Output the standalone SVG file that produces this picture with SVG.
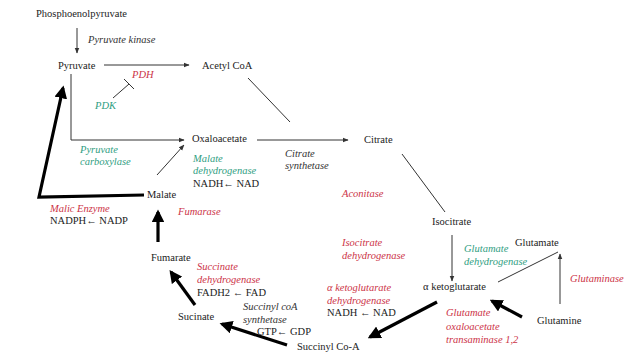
<svg xmlns="http://www.w3.org/2000/svg" width="638" height="355" viewBox="0 0 638 355">
<style>
text{font-family:"Liberation Serif","Times New Roman",serif;font-size:10.5px;fill:#222}
.e{font-style:italic}
.r{fill:#cc3347}
.g{fill:#2f9e82}
.k{fill:#333}
.thin{stroke:#333;stroke-width:1;fill:none}
.thick{stroke:#000;stroke-width:3.2;fill:none}
</style>
<defs>
<marker id="a" viewBox="0 0 10 10" refX="9" refY="5" markerWidth="6" markerHeight="6" markerUnits="userSpaceOnUse" orient="auto"><path d="M0,1 L10,5 L0,9 z" fill="#333"/></marker>
<marker id="A" viewBox="0 0 10 10" refX="8" refY="5" markerWidth="4" markerHeight="4" orient="auto"><path d="M0,0 L10,5 L0,10 z" fill="#000"/></marker>
</defs>
<g id="connectors">
<line class="thin" x1="77" y1="28" x2="77" y2="53" marker-end="url(#a)"/>
<line class="thin" x1="104" y1="65" x2="189" y2="65" marker-end="url(#a)"/>
<line class="thin" x1="113" y1="98" x2="129" y2="84"/>
<line class="thin" x1="124" y1="79" x2="134" y2="89"/>
<line class="thin" x1="248" y1="78" x2="290" y2="122"/>
<polyline class="thin" points="71,74 71,140 184,140" marker-end="url(#a)"/>
<line class="thin" x1="257" y1="140" x2="348" y2="140" marker-end="url(#a)"/>
<line class="thin" x1="157" y1="175" x2="184" y2="145" marker-end="url(#a)"/>
<polyline class="thick" points="144,195 39,197 63,88" marker-end="url(#A)" stroke-linejoin="miter"/>
<line class="thick" x1="158" y1="242" x2="158" y2="212" marker-end="url(#A)"/>
<line class="thick" x1="195" y1="305" x2="171" y2="272" marker-end="url(#A)"/>
<line class="thick" x1="287" y1="345" x2="222" y2="324" marker-end="url(#A)"/>
<line class="thin" x1="402" y1="154" x2="445" y2="212"/>
<line class="thin" x1="452" y1="235" x2="452" y2="281" marker-end="url(#a)"/>
<line class="thin" x1="498" y1="282" x2="558" y2="252"/>
<line class="thin" x1="560" y1="304" x2="560" y2="254" marker-end="url(#a)"/>
<line class="thick" x1="437" y1="302" x2="370" y2="337" marker-end="url(#A)"/>
<line class="thick" x1="522" y1="317" x2="492" y2="301" marker-end="url(#A)"/>
</g>
<g id="pep"><text x="36" y="17">Phosphoenolpyruvate</text></g>
<g id="pk"><text class="e k" x="88" y="43">Pyruvate kinase</text></g>
<g id="pyruvate"><text x="58" y="69">Pyruvate</text></g>
<g id="acetylcoa"><text x="202" y="69">Acetyl CoA</text></g>
<g id="pdh"><text class="e r" x="132" y="78">PDH</text></g>
<g id="pdk"><text class="e g" x="95" y="109">PDK</text></g>
<g id="oxaloacetate"><text x="192" y="142">Oxaloacetate</text></g>
<g id="pc"><text class="e g" x="80" y="153">Pyruvate</text><text class="e g" x="80" y="165">carboxylase</text></g>
<g id="citrate"><text x="364" y="143">Citrate</text></g>
<g id="cs"><text class="e k" x="285" y="157">Citrate</text><text class="e k" x="285" y="169">synthetase</text></g>
<g id="mdh"><text class="e g" x="193" y="162">Malate</text><text class="e g" x="193" y="174">dehydrogenase</text><text x="193" y="187">NADH← NAD</text></g>
<g id="malate"><text x="147" y="198">Malate</text></g>
<g id="me"><text class="e r" x="50" y="212">Malic Enzyme</text><text x="50" y="224">NADPH← NADP</text></g>
<g id="fumarase"><text class="e r" x="178" y="215">Fumarase</text></g>
<g id="fumarate"><text x="151" y="261">Fumarate</text></g>
<g id="sdh"><text class="e r" x="197" y="270">Succinate</text><text class="e r" x="197" y="283">dehydrogenase</text><text x="197" y="296">FADH2 ← FAD</text></g>
<g id="sucinate"><text x="178" y="320">Sucinate</text></g>
<g id="scs"><text class="e k" x="243" y="310">Succinyl coA</text><text class="e k" x="243" y="323">synthetase</text><text x="257" y="335">GTP← GDP</text></g>
<g id="succinylcoa"><text x="297" y="350">Succinyl Co-A</text></g>
<g id="aconitase"><text class="e r" x="342" y="197">Aconitase</text></g>
<g id="isocitrate"><text x="432" y="225">Isocitrate</text></g>
<g id="idh"><text class="e r" x="342" y="246">Isocitrate</text><text class="e r" x="342" y="259">dehydrogenase</text></g>
<g id="gdh"><text class="e g" x="464" y="252">Glutamate</text><text class="e g" x="464" y="265">dehydrogenase</text></g>
<g id="glutamate"><text x="515" y="246">Glutamate</text></g>
<g id="glutaminase"><text class="e r" x="570" y="282">Glutaminase</text></g>
<g id="akg"><text x="423" y="290">α ketoglutarate</text></g>
<g id="akgdh"><text class="e r" x="327" y="291">α ketoglutarate</text><text class="e r" x="327" y="304">dehydrogenase</text><text x="327" y="316">NADH ← NAD</text></g>
<g id="glutamine"><text x="537" y="324">Glutamine</text></g>
<g id="got"><text class="e r" x="446" y="316">Glutamate</text><text class="e r" x="446" y="330">oxaloacetate</text><text class="e r" x="446" y="343">transaminase 1,2</text></g>
</svg>
